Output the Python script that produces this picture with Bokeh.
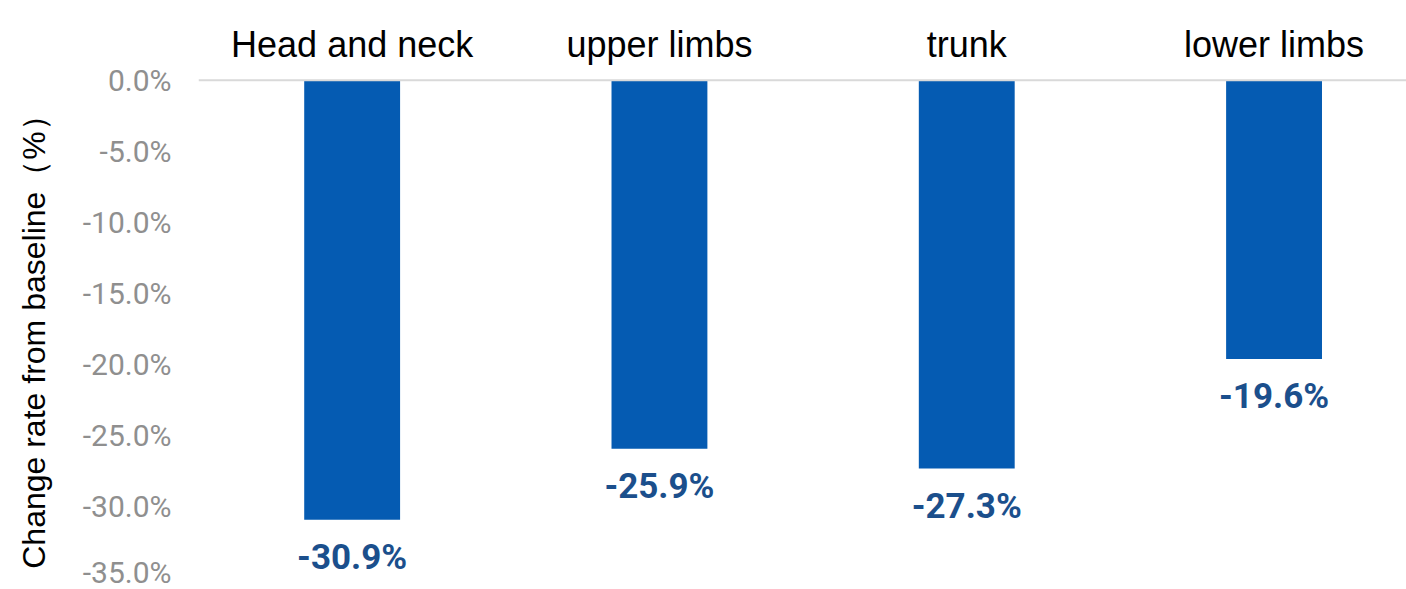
from bokeh.plotting import figure
from bokeh.models import Range1d, FixedTicker, LinearAxis, PrintfTickFormatter, Span, ColumnDataSource
from bokeh.core.properties import value
from bokeh.embed import file_html
from bokeh.resources import INLINE

categories = ["Head and neck", "upper limbs", "trunk", "lower limbs"]
change_rate = [-30.9, -25.9, -27.3, -19.6]
value_labels = ["-30.9%", "-25.9%", "-27.3%", "-19.6%"]
y_ticks = [0, -5, -10, -15, -20, -25, -30, -35]

idx = list(range(len(categories)))
src = ColumnDataSource(dict(x=idx, v=change_rate, lab=value_labels))

p = figure(width=1406, height=589, output_backend="svg", toolbar_location=None,
           x_range=Range1d(-0.5, 3.431), y_range=Range1d(-35.8, 0.12),
           x_axis_location=None, min_border_left=198, min_border_top=78,
           min_border_right=0, min_border_bottom=0)
p.outline_line_color = None
p.grid.visible = False
p.background_fill_color = "white"
p.border_fill_color = "white"

p.vbar(x="x", top=0, bottom="v", width=0.312, fill_color="#055BB2", line_color=None, source=src)

p.add_layout(Span(location=0, dimension="width", line_color="#d9d9d9", line_width=2))

p.text(x="x", y="v", text="lab", source=src, text_align="center", text_baseline="top",
       y_offset=17, text_font=value("Roboto"), text_font_style="bold",
       text_font_size="35px", text_color="#1B4F8C")

# y axis
ya = p.yaxis[0]
ya.ticker = FixedTicker(ticks=y_ticks)
ya.formatter = PrintfTickFormatter(format="%.1f%%")
ya.axis_line_color = None
ya.major_tick_line_color = None
ya.minor_tick_line_color = None
ya.major_label_text_font = "Roboto"
ya.major_label_text_font_size = "30px"
ya.major_label_text_color = "#8f8f8f"
ya.major_label_standoff = 21
ya.axis_label = "Change rate from baseline（%）"
ya.axis_label_text_font = "Liberation Sans"
ya.axis_label_text_font_size = "32px"
ya.axis_label_text_font_style = "normal"
ya.axis_label_text_color = "black"
ya.axis_label_standoff = 28

# category axis on top
xa = LinearAxis(ticker=FixedTicker(ticks=idx),
                major_label_overrides={i: c for i, c in zip(idx, categories)})
xa.axis_line_color = None
xa.major_tick_line_color = None
xa.minor_tick_line_color = None
xa.major_label_text_font = "Liberation Sans"
xa.major_label_text_font_size = "36px"
xa.major_label_text_color = "black"
xa.major_label_standoff = 8
p.add_layout(xa, "above")

open("out.html", "w").write(file_html(p, INLINE))
